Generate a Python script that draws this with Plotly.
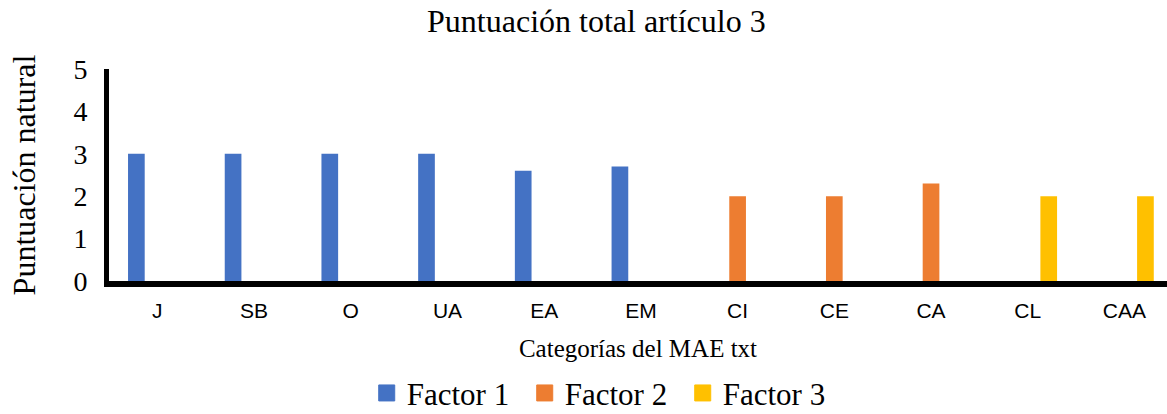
import plotly.graph_objects as go

categories = ["J", "SB", "O", "UA", "EA", "EM", "CI", "CE", "CA", "CL", "CAA"]
factor1 = [3, 3, 3, 3, 2.6, 2.7, 0, 0, 0, 0, 0]
factor2 = [0, 0, 0, 0, 0, 0, 2, 2, 2.3, 0, 0]
factor3 = [0, 0, 0, 0, 0, 0, 0, 0, 0, 2, 2]
series_names = ["Factor 1", "Factor 2", "Factor 3"]
y_ticks = [0, 1, 2, 3, 4, 5]

colors = ["#4472C4", "#ED7D31", "#FFC000"]
SERIF = "Liberation Serif, Times New Roman, serif"
SANS = "Liberation Sans, Arial, sans-serif"

fig = go.Figure()
for name, vals, col in zip(series_names, [factor1, factor2, factor3], colors):
    fig.add_trace(go.Bar(x=categories, y=vals, name=name, marker_color=col,
                         marker_line_width=0, showlegend=False, legendgroup=name))
# legend entries with larger square swatches
for name, col in zip(series_names, colors):
    fig.add_trace(go.Scatter(x=[None], y=[None], mode="markers", name=name,
                             legendgroup=name,
                             marker=dict(symbol="square", size=16, color=col,
                                         line=dict(width=1, color=col)),
                             showlegend=True, hoverinfo="skip"))

W, H = 1167, 414
fig.update_layout(
    width=W, height=H,
    margin=dict(l=109, r=0, t=69, b=133, autoexpand=False),
    paper_bgcolor="white", plot_bgcolor="white",
    barmode="group", bargap=0.349, bargroupgap=0.205,
    title=dict(text="Puntuación total artículo 3", x=0.511, xanchor="center",
               y=0.95, yanchor="middle", yref="container",
               font=dict(family=SERIF, size=32, color="black")),
    legend=dict(orientation="h", x=0.4676, xanchor="center", y=0.05, yanchor="middle",
                yref="container", font=dict(family=SERIF, size=31, color="black"),
                bgcolor="rgba(0,0,0,0)", traceorder="normal",
                entrywidth=113, itemsizing="trace"),
    showlegend=True,
)
fig.update_xaxes(
    range=[-0.5, 10.44], showgrid=False, zeroline=False,
    showline=True, linecolor="black", linewidth=6,
    ticks="outside", ticklen=6, tickcolor="rgba(0,0,0,0)",
    tickfont=dict(family=SANS, size=21, color="black"),
    title=dict(text="Categorías del MAE txt", standoff=20,
               font=dict(family=SERIF, size=25, color="black")),
)
fig.update_yaxes(
    range=[0, 5], tickvals=y_ticks, showgrid=False, zeroline=False,
    showline=True, linecolor="black", linewidth=5,
    ticks="outside", ticklen=11, tickcolor="rgba(0,0,0,0)",
    tickfont=dict(family=SERIF, size=28, color="black"),
    title=dict(text="Puntuación natural", standoff=30,
               font=dict(family=SERIF, size=32, color="black")),
)
fig.write_html("out.html", config={"displayModeBar": False},
               post_script="document.body.style.margin='0';document.body.style.overflow='hidden';")
